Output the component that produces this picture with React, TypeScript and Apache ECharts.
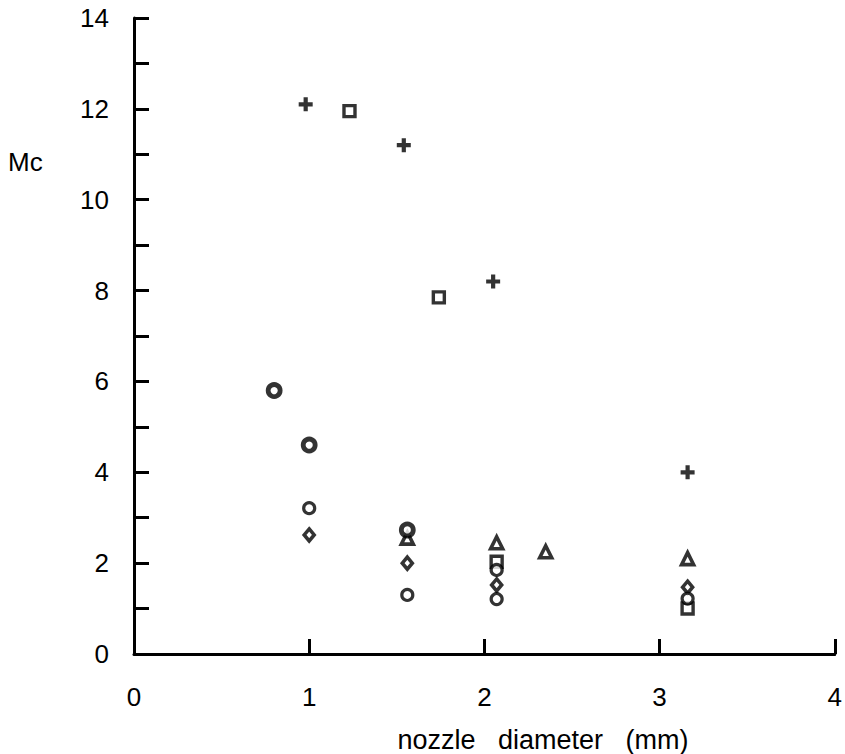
import React, { useEffect, useRef } from "react";
import * as echarts from "echarts";

const xTicks = [0, 1, 2, 3, 4];
const yTicks = [0, 2, 4, 6, 8, 10, 12, 14];

const plusData: [number, number][] = [
  [0.98, 12.1],
  [1.54, 11.2],
  [2.05, 8.2],
  [3.16, 4.0],
];
const squareData: [number, number][] = [
  [1.23, 11.95],
  [1.74, 7.85],
  [2.07, 2.03],
  [3.16, 1.0],
];
const triangleData: [number, number][] = [
  [1.56, 2.55],
  [2.07, 2.45],
  [2.35, 2.25],
  [3.16, 2.1],
];
const diamondData: [number, number][] = [
  [1.0, 2.62],
  [1.56, 2.0],
  [2.07, 1.52],
  [3.16, 1.47],
];
const circleData: [number, number][] = [
  [1.0, 3.21],
  [1.56, 1.3],
  [2.07, 1.85],
  [2.07, 1.21],
  [3.16, 1.22],
];
const boldCircleData: [number, number][] = [
  [0.8, 5.8],
  [1.0, 4.6],
  [1.56, 2.73],
];

const FONT = "'Liberation Sans', Arial, Helvetica, sans-serif";
const PLUS =
  "path://M4.2,0h3.6v4.2h4.2v3.6h-4.2v4.2h-3.6v-4.2h-4.2v-3.6h4.2z";

export default function App() {
  const ref = useRef<HTMLDivElement>(null);
  useEffect(() => {
    if (!ref.current) return;
    const chart = echarts.init(ref.current, null, { renderer: "svg" });
    const hollow = (bw: number) => ({
      color: "#fff",
      borderColor: "#000",
      borderWidth: bw,
    });
    chart.setOption({
      animation: false,
      backgroundColor: "#fff",
      grid: { left: 134, right: 10, top: 18, bottom: 100, containLabel: false },
      xAxis: {
        type: "value",
        min: xTicks[0],
        max: xTicks[xTicks.length - 1],
        interval: 1,
        axisLine: { onZero: false, lineStyle: { color: "#000", width: 3 } },
        axisTick: { inside: true, length: 15, lineStyle: { color: "#000", width: 3 } },
        axisLabel: {
          color: "#000",
          fontSize: 26,
          fontFamily: FONT,
          margin: 30,
          showMinLabel: true,
          showMaxLabel: true,
        },
        splitLine: { show: false },
      },
      yAxis: {
        type: "value",
        min: yTicks[0],
        max: yTicks[yTicks.length - 1],
        interval: 1,
        axisLine: { show: true, onZero: false, lineStyle: { color: "#000", width: 3 } },
        axisTick: { show: true, inside: true, length: 15, lineStyle: { color: "#000", width: 3 } },
        axisLabel: {
          color: "#000",
          fontSize: 26,
          fontFamily: FONT,
          margin: 25,
          formatter: (v: number) => (yTicks.includes(v) ? String(v) : ""),
        },
        splitLine: { show: false },
      },
      graphic: [
        {
          type: "text",
          x: 8,
          y: 162,
          style: {
            text: "Mc",
            font: `26px ${FONT}`,
            fill: "#000",
            textVerticalAlign: "middle",
          },
        },
        {
          type: "text",
          x: 543,
          y: 740,
          style: {
            text: "nozzle   diameter   (mm)",
            font: `27px ${FONT}`,
            fill: "#000",
            textAlign: "center",
            textVerticalAlign: "middle",
          },
        },
      ],
      series: [
        {
          type: "scatter",
          data: plusData,
          symbol: PLUS,
          symbolSize: 14,
          itemStyle: { color: "#000" },
        },
        {
          type: "scatter",
          data: squareData,
          symbol: "rect",
          symbolSize: 11,
          itemStyle: hollow(3.4),
        },
        {
          type: "scatter",
          data: triangleData,
          symbol: "triangle",
          symbolSize: 12,
          itemStyle: hollow(3.6),
        },
        {
          type: "scatter",
          data: diamondData,
          symbol: "diamond",
          symbolSize: [10, 12],
          itemStyle: hollow(3.6),
        },
        {
          type: "scatter",
          data: circleData,
          symbol: "circle",
          symbolSize: 11,
          itemStyle: hollow(3.2),
        },
        {
          type: "scatter",
          data: boldCircleData,
          symbol: "circle",
          symbolSize: 12,
          itemStyle: hollow(4.8),
        },
      ],
    });
    return () => chart.dispose();
  }, []);
  return (
    <div
      ref={ref}
      style={{ position: "absolute", left: 0, top: 0, width: 845, height: 754 }}
    />
  );
}
